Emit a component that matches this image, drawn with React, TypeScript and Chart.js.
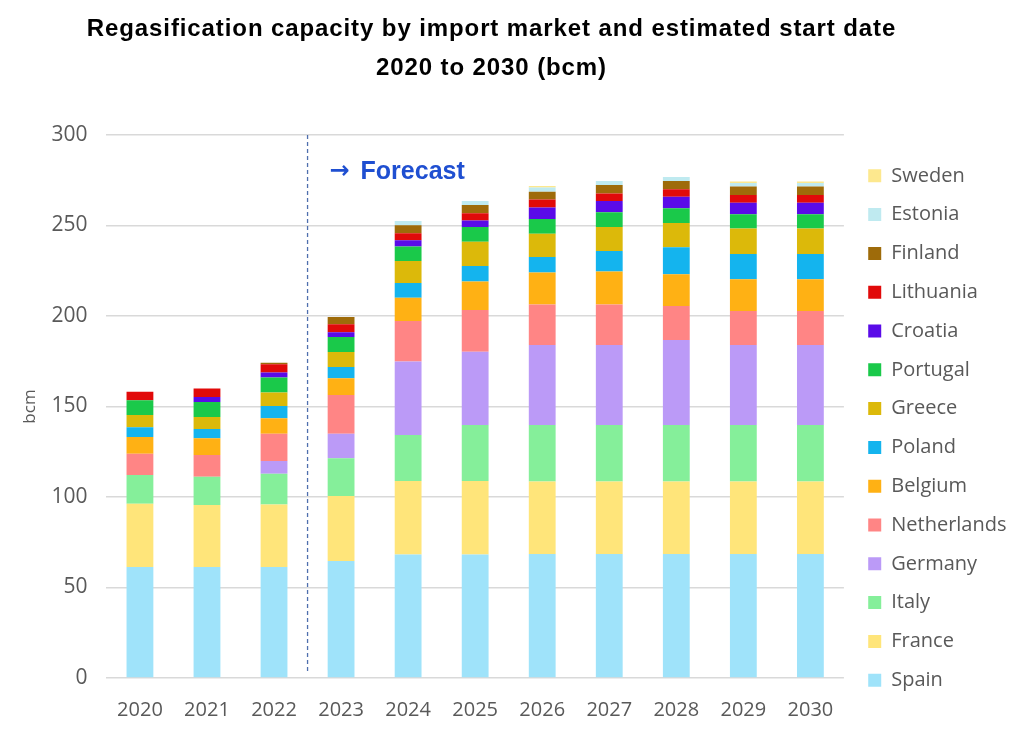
import { useEffect, useRef } from 'react'
import { Chart, registerables } from 'chart.js'

Chart.register(...registerables)

const years = ['2020', '2021', '2022', '2023', '2024', '2025', '2026', '2027', '2028', '2029', '2030']

const spain = [61.3, 61.3, 61.3, 64.6, 68.3, 68.3, 68.5, 68.5, 68.5, 68.5, 68.5]
const france = [35, 34.3, 34.5, 35.9, 40.5, 40.5, 40, 40, 40, 40, 40]
const italy = [15.9, 15.6, 17.1, 20.9, 25.5, 31, 31.3, 31.3, 31.3, 31.3, 31.3]
const germany = [0, 0, 7, 13.6, 40.5, 40.5, 44.2, 44.2, 46.9, 44.2, 44.2]
const netherlands = [11.7, 12, 15.1, 21.4, 22.4, 23, 22.4, 22.4, 18.8, 18.8, 18.8]
const belgium = [9.2, 9.2, 8.5, 9.2, 12.9, 15.7, 17.6, 18.2, 17.5, 17.5, 17.5]
const poland = [5.5, 5.2, 6.8, 6.2, 8.1, 8.6, 8.6, 11.3, 15, 13.9, 13.9]
const greece = [6.7, 6.6, 7.4, 8.3, 12.2, 13.4, 12.9, 13.3, 13.4, 14.1, 14.1]
const portugal = [8.1, 8.3, 8.3, 8.3, 8, 8.2, 8.1, 8.1, 8.1, 7.9, 7.9]
const croatia = [0, 2.7, 2.8, 2.6, 3.5, 3.6, 6.3, 6.2, 6.4, 6.4, 6.4]
const lithuania = [4.8, 4.8, 4.6, 4.4, 3.8, 3.9, 4.4, 4.2, 4.1, 4.3, 4.3]
const finland = [0, 0, 0.8, 4, 4.5, 4.6, 4.4, 4.7, 4.6, 4.7, 4.7]
const estonia = [0, 0, 0, 0, 2.3, 2.2, 2.3, 2.2, 2.2, 1.9, 1.9]
const sweden = [0, 0, 0, 0, 0, 0, 0.8, 0, 0, 0.8, 0.8]

const yTicks = [0, 50, 100, 150, 200, 250, 300]

const series = [
  { label: 'Spain', data: spain, color: '#9fe3fa' },
  { label: 'France', data: france, color: '#ffe57a' },
  { label: 'Italy', data: italy, color: '#85ef9a' },
  { label: 'Germany', data: germany, color: '#bb9af7' },
  { label: 'Netherlands', data: netherlands, color: '#ff8585' },
  { label: 'Belgium', data: belgium, color: '#ffb114' },
  { label: 'Poland', data: poland, color: '#14b4ee' },
  { label: 'Greece', data: greece, color: '#dcb90a' },
  { label: 'Portugal', data: portugal, color: '#1ac94a' },
  { label: 'Croatia', data: croatia, color: '#5a0be8' },
  { label: 'Lithuania', data: lithuania, color: '#e10a0a' },
  { label: 'Finland', data: finland, color: '#9e6b0a' },
  { label: 'Estonia', data: estonia, color: '#bfeaf0' },
  { label: 'Sweden', data: sweden, color: '#fde88e' },
]

const FONT = '"Open Sans", sans-serif'
const GREY = '#595959'

// dashed divider between actuals and forecast, plus the label
const forecastMarker = {
  id: 'forecastMarker',
  afterDatasetsDraw(chart: Chart) {
    const { ctx, chartArea, scales } = chart
    const x = (scales.x.getPixelForValue(2) + scales.x.getPixelForValue(3)) / 2
    ctx.save()
    ctx.strokeStyle = '#4f6fae'
    ctx.lineWidth = 1.3
    ctx.setLineDash([4, 3])
    ctx.beginPath()
    ctx.moveTo(x, chartArea.top)
    ctx.lineTo(x, chartArea.bottom - 7)
    ctx.stroke()
    ctx.setLineDash([])
    ctx.fillStyle = '#1f4fd1'
    ctx.textBaseline = 'middle'
    ctx.font = 'bold 24px "DejaVu Sans", sans-serif'
    ctx.fillText('→', x + 22, chartArea.top + 37)
    ctx.font = 'bold 25px "Liberation Sans", Arial, sans-serif'
    ctx.fillText('Forecast', x + 53, chartArea.top + 37)
    ctx.restore()
  },
}

// nudge the legend block a little right and up, like the original
const legendNudge = {
  id: 'legendNudge',
  afterLayout(chart: Chart) {
    const lg = chart.legend
    if (!lg) return
    lg.left += 5.5
    lg.right += 5.5
    lg.top -= 10.5
    lg.bottom -= 10.5
  },
}

export default function App() {
  const ref = useRef<HTMLCanvasElement>(null)

  useEffect(() => {
    document.body.style.margin = '0'
    if (!ref.current) return

    const chart = new Chart(ref.current, {
      type: 'bar',
      data: {
        labels: years,
        datasets: series.map((s) => ({
          label: s.label,
          data: s.data,
          backgroundColor: s.color,
          borderWidth: 0,
          barPercentage: 0.8,
          categoryPercentage: 0.5,
        })),
      },
      options: {
        responsive: true,
        maintainAspectRatio: false,
        animation: false,
        layout: { padding: { top: 135, left: 0, right: 13, bottom: -11 } },
        plugins: {
          legend: {
            position: 'right',
            reverse: true,
            labels: {
              boxWidth: 13,
              boxHeight: 13,
              padding: 18.8,
              color: GREY,
              font: { family: FONT, size: 20 },
            },
          },
          tooltip: { enabled: false },
        },
        scales: {
          x: {
            stacked: true,
            grid: { display: false, drawTicks: false },
            border: { display: false },
            ticks: { color: GREY, font: { family: FONT, size: 20 }, padding: 20 },
          },
          y: {
            stacked: true,
            min: 0,
            max: 300,
            afterBuildTicks: (axis) => {
              axis.ticks = yTicks.map((v) => ({ value: v }))
            },
            grid: { color: '#d9d9d9', lineWidth: 1.5, drawTicks: false },
            border: { display: false },
            ticks: { color: GREY, font: { family: FONT, size: 21 }, padding: 19 },
            title: {
              display: true,
              text: 'bcm',
              color: GREY,
              font: { family: FONT, size: 17 },
              padding: { top: 20, bottom: -8 },
            },
          },
        },
      },
      plugins: [forecastMarker, legendNudge],
    })
    return () => chart.destroy()
  }, [])

  return (
    <div style={{ position: 'relative', width: 1024, height: 731, background: '#fff' }}>
      <div
        style={{
          position: 'absolute',
          top: 8,
          left: 0,
          width: 983,
          textAlign: 'center',
          fontFamily: '"Liberation Sans", Arial, sans-serif',
          fontWeight: 'bold',
          fontSize: 24,
          letterSpacing: 0.9,
          lineHeight: '39px',
          color: '#000',
          zIndex: 1,
        }}
      >
        <div>Regasification capacity by import market and estimated start date</div>
        <div>2020 to 2030 (bcm)</div>
      </div>
      <canvas ref={ref} role="img" aria-label="Stacked bar chart of regasification capacity by import market, 2020 to 2030 (bcm)" />
    </div>
  )
}
